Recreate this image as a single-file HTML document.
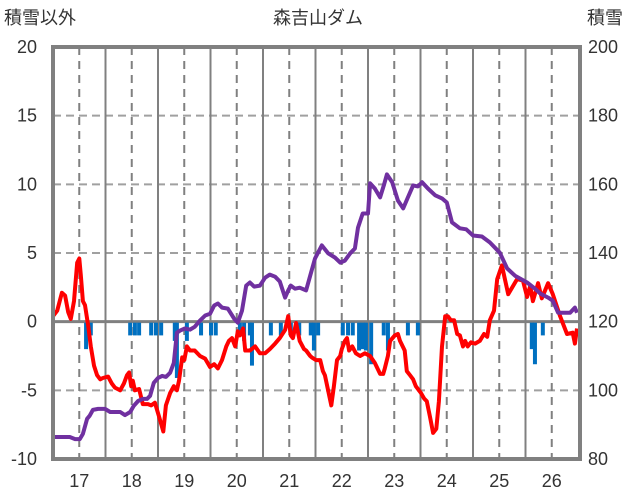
<!DOCTYPE html>
<html><head><meta charset="utf-8"><style>
body{margin:0;background:#fff;}
svg{display:block;font-family:"Liberation Sans","Noto Sans CJK JP",sans-serif;}
</style></head><body>
<svg id="chart" width="636" height="501" viewBox="0 0 636 501">
<text x="318" y="24" text-anchor="middle" font-size="18" fill="#333">森吉山ダム</text>
<text x="4" y="24" font-size="18" fill="#333">積雪以外</text>
<text x="587" y="24" font-size="18" fill="#333">積雪</text>
<g id="grid"></g>
<g id="bars"></g>
<g id="lines"></g>
<g id="axes"></g>
</svg>
<script>
const xTicks=[17,18,19,20,21,22,23,24,25,26];
const leftTicks=[20,15,10,5,0,-5,-10];
const rightTicks=[200,180,160,140,120,100,80];
const redX=[16.50,16.58,16.67,16.73,16.79,16.84,16.90,16.96,17.00,17.03,17.07,17.11,17.17,17.22,17.28,17.34,17.40,17.45,17.55,17.62,17.68,17.78,17.85,17.91,17.95,17.99,18.02,18.06,18.14,18.21,18.31,18.37,18.44,18.52,18.60,18.65,18.73,18.80,18.86,18.90,18.96,19.00,19.05,19.11,19.20,19.30,19.40,19.49,19.57,19.64,19.72,19.80,19.85,19.91,19.97,20.02,20.06,20.12,20.16,20.25,20.35,20.44,20.54,20.63,20.73,20.82,20.92,20.98,21.03,21.07,21.13,21.20,21.28,21.32,21.40,21.43,21.51,21.59,21.64,21.68,21.74,21.80,21.85,21.91,21.97,22.00,22.06,22.10,22.14,22.20,22.27,22.35,22.44,22.54,22.63,22.73,22.79,22.82,22.88,22.92,23.01,23.07,23.11,23.20,23.24,23.30,23.36,23.41,23.47,23.51,23.57,23.62,23.68,23.74,23.80,23.85,23.91,23.97,24.02,24.08,24.14,24.20,24.25,24.31,24.35,24.40,24.46,24.54,24.63,24.71,24.77,24.82,24.90,24.96,25.05,25.17,25.34,25.45,25.53,25.59,25.64,25.74,25.81,25.93,26.02,26.16,26.29,26.40,26.44,26.48];
const redY=[0.4,0.8,2.1,1.9,0.7,0.2,1.5,4.3,4.6,3.4,1.5,1.2,-0.3,-1.8,-3.2,-3.9,-4.2,-4.1,-4.0,-4.5,-4.8,-5.0,-4.5,-3.9,-3.7,-4.7,-4.3,-5.0,-4.9,-6.0,-6.0,-6.1,-5.9,-6.9,-8.0,-6.1,-5.2,-4.7,-5.0,-4.3,-2.6,-2.8,-1.8,-2.1,-2.1,-2.5,-2.7,-3.3,-3.1,-3.4,-2.8,-1.8,-1.4,-1.2,-1.8,-0.7,-1.0,-0.5,-2.1,-2.1,-1.8,-2.3,-2.3,-2.0,-1.6,-1.2,-0.6,0.4,-1.0,-1.2,-0.1,-1.4,-2.0,-2.1,-2.5,-2.6,-2.8,-2.8,-3.6,-3.9,-5.0,-6.1,-4.7,-2.8,-2.5,-2.0,-1.4,-1.2,-2.1,-1.8,-2.3,-2.5,-2.3,-2.5,-3.0,-3.8,-3.8,-3.4,-2.5,-1.4,-1.0,-0.9,-1.4,-2.1,-3.6,-3.9,-4.2,-4.7,-5.0,-5.2,-5.6,-5.8,-6.9,-8.1,-7.8,-5.8,-1.8,0.4,0.4,0.1,0.1,-0.9,-1.0,-1.8,-1.4,-1.8,-1.5,-1.6,-1.4,-0.9,-1.1,0.1,0.8,3.1,4.1,2.0,3.1,3.0,1.8,2.6,1.5,2.8,1.7,2.8,2.0,0.4,-0.9,-0.8,-1.6,-0.5];
const snowX=[16.50,16.82,16.92,17.01,17.07,17.15,17.20,17.26,17.36,17.49,17.59,17.68,17.78,17.87,17.97,18.04,18.12,18.21,18.29,18.35,18.42,18.50,18.58,18.65,18.73,18.80,18.86,18.92,19.01,19.11,19.20,19.30,19.40,19.49,19.57,19.64,19.72,19.83,19.95,20.02,20.10,20.18,20.25,20.33,20.44,20.54,20.63,20.73,20.82,20.92,20.98,21.03,21.11,21.20,21.32,21.40,21.49,21.62,21.74,21.87,21.97,22.06,22.16,22.25,22.31,22.40,22.50,22.54,22.63,22.73,22.80,22.86,22.96,23.07,23.17,23.26,23.36,23.45,23.53,23.64,23.78,23.91,24.00,24.10,24.25,24.37,24.50,24.67,24.82,25.01,25.15,25.30,25.53,25.68,25.78,25.93,26.02,26.12,26.25,26.35,26.44,26.48];
const snowY=[86.4,86.4,85.8,85.8,87.3,91.7,92.6,94.3,94.6,94.6,93.7,93.7,93.7,92.8,93.7,95.5,96.9,97.5,97.5,98.4,102.2,103.6,104.2,103.9,105.1,108.0,116.8,117.4,118.0,117.7,118.5,120.3,121.8,122.3,124.7,125.3,124.1,123.8,120.9,119.7,123.2,130.5,131.4,130.2,130.5,132.8,133.7,133.1,131.7,127.0,129.1,130.5,129.6,129.9,129.1,133.4,138.4,142.2,139.9,138.7,137.2,137.8,139.9,141.3,147.4,151.5,151.5,160.3,158.8,156.2,159.7,162.9,160.6,155.3,153.0,156.2,159.7,159.4,160.6,158.8,156.8,155.9,154.7,148.9,147.2,146.9,145.1,144.8,143.1,140.1,135.5,133.4,131.4,129.6,128.2,127.0,126.1,122.6,122.6,122.6,124.1,122.6];
const barX=[17.13,17.22,17.97,18.06,18.14,18.37,18.46,18.56,18.82,18.86,19.05,19.32,19.51,19.60,20.06,20.14,20.25,20.29,20.65,20.84,21.03,21.19,21.41,21.47,21.55,22.02,22.12,22.21,22.33,22.40,22.46,22.56,22.80,22.88,23.26,23.45,25.62,25.68,25.83];
const barY=[-2.0,-1.0,-1.0,-1.0,-1.0,-1.0,-1.0,-1.0,-1.4,-4.1,-1.4,-1.0,-1.0,-1.0,-1.0,-1.4,-1.0,-3.2,-1.0,-1.0,-1.0,-1.0,-1.0,-2.1,-1.0,-1.0,-1.0,-1.0,-2.1,-2.0,-2.1,-3.1,-1.0,-2.1,-1.0,-1.0,-2.0,-3.1,-1.0];

const NS='http://www.w3.org/2000/svg';
const X0=53,X1=578,Y0=459,Y1=47;
const xs=d=>X0+(d-16.5)/10*(X1-X0);
const yL=v=>Y0-(v+10)/30*(Y0-Y1);
const yR=v=>Y0-(v-80)/120*(Y0-Y1);
function mk(tag,parent,attrs){const e=document.createElementNS(NS,tag);for(const k in attrs)e.setAttribute(k,attrs[k]);parent.appendChild(e);return e;}
const grid=document.getElementById('grid'),bars=document.getElementById('bars'),lines=document.getElementById('lines'),axes=document.getElementById('axes');

leftTicks.forEach(v=>{
  if(v===20||v===-10||v===0)return;
  const l=mk('line',grid,{x1:X0,x2:580,y1:yL(v),y2:yL(v),stroke:'#a0a0a0','stroke-width':2,'stroke-dasharray':'8,5'});
  
  
});
xTicks.forEach(d=>{
  const l=mk('line',grid,{x1:xs(d),x2:xs(d),y1:Y1,y2:Y0,stroke:'#808080','stroke-width':2,'stroke-dasharray':'8,6'});
  
  
  if(d<26){
    const m=mk('line',grid,{x1:xs(d+0.5),x2:xs(d+0.5),y1:Y1,y2:Y0,stroke:'#808080','stroke-width':2});
    
    
  }
  const t=mk('text',axes,{x:xs(d),y:487,'text-anchor':'middle','font-size':18,fill:'#333'});
  t.textContent=String(d);
  
  
});
barX.forEach((d,i)=>{
  const y0=yL(0)+1, y1=yL(barY[i]);
  const r=mk('rect',bars,{x:xs(d)-2,y:y0,width:4,height:Math.max(0,y1-y0),fill:'#0070C0'});
  
  
});
const z=mk('line',grid,{x1:X0,x2:580,y1:yL(0),y2:yL(0),stroke:'#808080','stroke-width':3});



const pr=mk('polyline',lines,{points:redX.map((d,i)=>xs(d).toFixed(1)+','+yL(redY[i]).toFixed(1)).join(' '),fill:'none',stroke:'#FF0000','stroke-width':4,'stroke-linejoin':'round'});


const pp=mk('polyline',lines,{points:snowX.map((d,i)=>xs(d).toFixed(1)+','+yR(snowY[i]).toFixed(1)).join(' '),fill:'none',stroke:'#7030A0','stroke-width':4,'stroke-linejoin':'round'});



const f=mk('rect',axes,{x:X0,y:Y1,width:580-X0,height:Y0-Y1,fill:'none',stroke:'#808080','stroke-width':4});


leftTicks.forEach(v=>{
  const t=mk('text',axes,{x:37,y:yL(v)+6,'text-anchor':'end','font-size':18,fill:'#333'});
  t.textContent=String(v);
  
  
});
rightTicks.forEach(v=>{
  const t=mk('text',axes,{x:588,y:yR(v)+6,'text-anchor':'start','font-size':18,fill:'#333'});
  t.textContent=String(v);
  
  
});
</script>
</body></html>
